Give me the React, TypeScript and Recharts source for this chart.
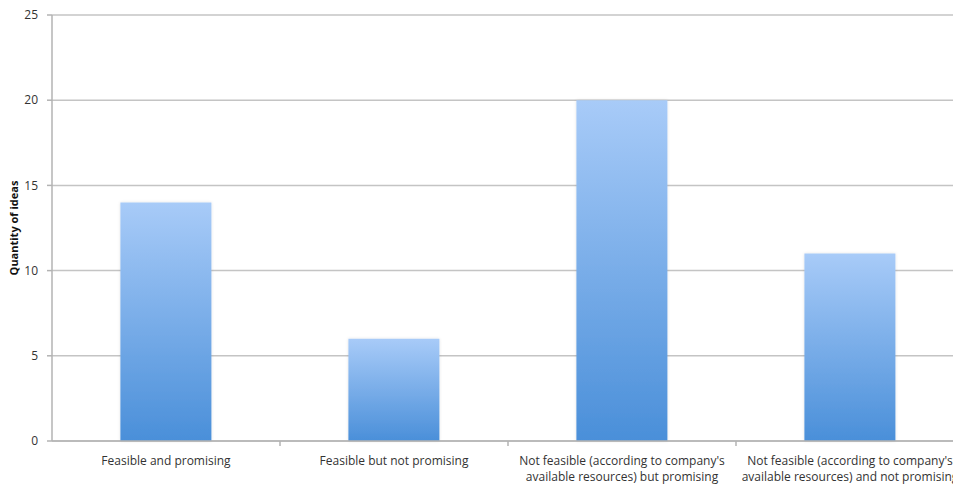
import React from "react";
import {
  BarChart,
  Bar,
  XAxis,
  YAxis,
  CartesianGrid,
} from "recharts";

const categories = [
  "Feasible and promising",
  "Feasible but not promising",
  "Not feasible (according to company's\navailable resources) but promising",
  "Not feasible (according to company's\navailable resources) and not promising",
];

const ideaCounts = [14, 6, 20, 11];

const yTicks = [0, 5, 10, 15, 20, 25];

const data = categories.map((name, i) => ({ name, value: ideaCounts[i] }));

const FONT = "'Open Sans', 'Liberation Sans', sans-serif";

// category labels may span two lines; a small tick marks the border between bands
function CategoryTick(props: any) {
  const { x, y, payload } = props;
  const lines = String(payload.value).split("\n");
  const half = payload.offset ?? 0;
  return (
    <g>
      {payload.index > 0 && (
        <line x1={x - half} x2={x - half} y1={y - 8} y2={y - 3} stroke="#b3b3b3" strokeWidth={1.5} />
      )}
      <text x={x} y={y + 6} textAnchor="middle" fill="#333" fontSize={12} fontFamily={FONT}>
        {lines.map((line, i) => (
          <tspan key={i} x={x} dy={i === 0 ? 10 : 16}>
            {line}
          </tspan>
        ))}
      </text>
    </g>
  );
}

export default function App() {
  return (
    <div
      style={{
        position: "fixed",
        left: 0,
        top: 0,
        width: 953,
        height: 485,
        overflow: "hidden",
        background: "#fff",
      }}
    >
      <BarChart
        width={1000}
        height={485}
        data={data}
        margin={{ top: 15, right: 36, left: 0, bottom: 0 }}
        barCategoryGap="30%"
      >
        <defs>
          <linearGradient id="barFill" x1="0" y1="0" x2="0" y2="1">
            <stop offset="0%" stopColor="#a8cbf8" />
            <stop offset="100%" stopColor="#4a8fd9" />
          </linearGradient>
          <filter id="barShadow" x="-10%" y="-10%" width="120%" height="120%">
            <feDropShadow dx="0" dy="0" stdDeviation="1.5" floodColor="#000" floodOpacity="0.12" />
          </filter>
        </defs>
        <CartesianGrid vertical={false} stroke="#c4c4c4" strokeWidth={1.5} />
        <XAxis
          dataKey="name"
          height={44}
          interval={0}
          tickLine={false}
          axisLine={{ stroke: "#b3b3b3", strokeWidth: 1.5 }}
          tick={<CategoryTick />}
        />
        <YAxis
          width={52}
          domain={[0, 25]}
          ticks={yTicks}
          tickSize={5}
          tickMargin={9}
          tickLine={{ stroke: "#b3b3b3", strokeWidth: 1.5 }}
          axisLine={{ stroke: "#b3b3b3", strokeWidth: 1.5 }}
          tick={{ fill: "#333", fontSize: 12, fontFamily: FONT }}
          label={{
            value: "Quantity of ideas",
            angle: -90,
            position: "insideLeft",
            offset: 14,
            style: { fill: "#111", fontSize: 11, fontWeight: 700, fontFamily: FONT, textAnchor: "middle" },
          }}
        />
        <Bar
          dataKey="value"
          fill="url(#barFill)"
          filter="url(#barShadow)"
          isAnimationActive={false}
        />
      </BarChart>
    </div>
  );
}
